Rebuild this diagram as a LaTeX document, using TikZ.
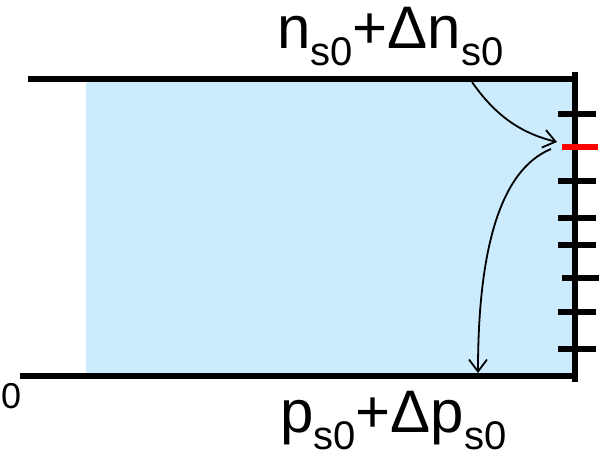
\documentclass[tikz,border=0pt]{standalone}
\usepackage{fontspec}
\setmainfont{Liberation Sans}
\usetikzlibrary{arrows.meta}
\definecolor{fillblue}{RGB}{204,235,253}
\definecolor{tickred}{RGB}{255,0,0}
\newcommand{\subsz}[1]{\raisebox{-17pt}{\fontsize{40}{40}\selectfont #1}}
\tikzset{
  thick line/.style={line width=6pt},
  tickmark/.style={line width=6pt},
  flow/.style={line width=1.8pt, -{Straight Barb[length=12pt,width=18pt,line width=1.8pt]}},
  biglabel/.style={inner sep=0pt, anchor=base west, font=\fontsize{60}{60}\selectfont},
}
\begin{document}
\begin{tikzpicture}[x=1pt,y=-1pt]
\useasboundingbox (0,0) rectangle (603,456);
\fill[fillblue] (86,79) rectangle (575,376);
\coordinate (tl) at (28,79);
\coordinate (tr) at (577,79);
\coordinate (bl) at (20,376);
\coordinate (br) at (573,376);
\coordinate (vt) at (575,75);
\coordinate (vb) at (575,379);
\draw[thick line] (tl) -- (tr);
\draw[thick line] (bl) -- (br);
\draw[thick line, line cap=rect] (vt) -- (vb);
\foreach \y/\a/\b in {114/558/596,181/558/596,218/558/596,245/558/596,278/562/599,312/558/596,349/558/596}{
  \draw[tickmark] (\a,\y) -- (\b,\y);
}
\coordinate (ra) at (562,147);
\coordinate (rb) at (598,147);
\draw[tickmark, tickred] (ra) -- (rb);
\coordinate (s1) at (472,82);
\coordinate (e1) at (557,142);
\coordinate (s2) at (551,149);
\coordinate (e2) at (478,373);
\draw[flow] (s1) .. controls (495,115) and (520,133) .. (e1);
\draw[flow] (s2) .. controls (500,170) and (478,250) .. (e2);
\node[biglabel] (ntop) at (277,48) {n\subsz{s0}+Δn\subsz{s0}};
\node[biglabel] (pbot) at (280,432) {p\subsz{s0}+Δp\subsz{s0}};
\node[inner sep=0pt, anchor=base west, font=\fontsize{36}{36}\selectfont] (zero) at (1,408) {0};
\end{tikzpicture}
\end{document}
